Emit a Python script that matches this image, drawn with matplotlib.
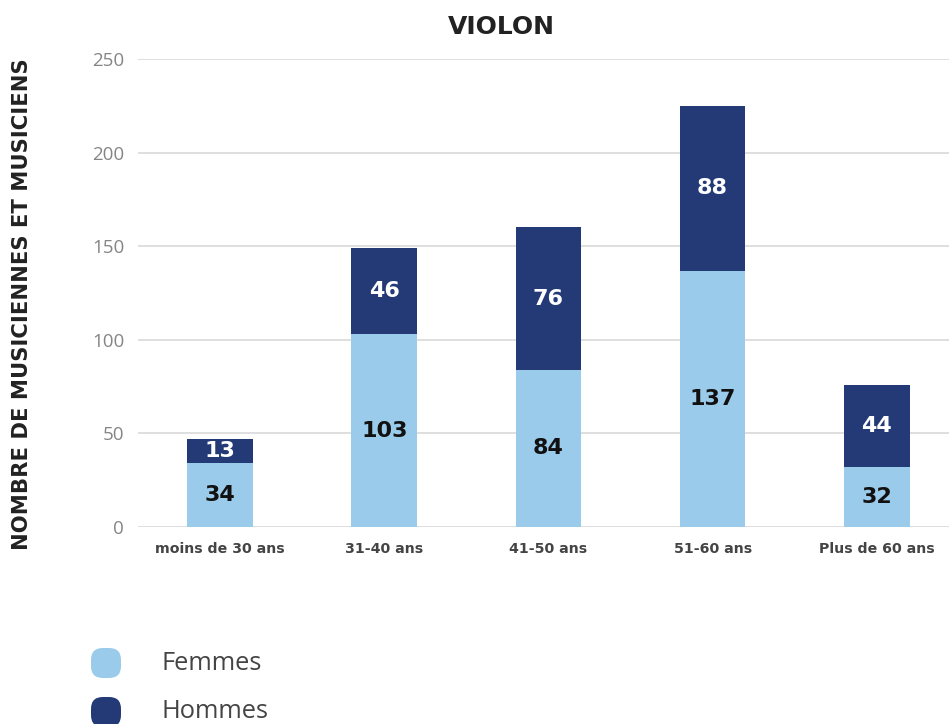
import matplotlib
matplotlib.use("Agg")
import matplotlib.pyplot as plt
from matplotlib.patches import FancyBboxPatch

categories = ["moins de 30 ans", "31-40 ans", "41-50 ans", "51-60 ans", "Plus de 60 ans"]
femmes = [34, 103, 84, 137, 32]
hommes = [13, 46, 76, 88, 44]
series_names = ["Femmes", "Hommes"]
yticks = [0, 50, 100, 150, 200, 250]

c_f = "#9BCBEB"
c_h = "#233A77"
bold_font = ["DejaVu Sans"]
thin_font = ["Open Sans", "DejaVu Sans"]

fig = plt.figure(figsize=(9.49, 7.24), dpi=100)
ax = fig.add_axes([138/949, 1-527/724, 1-138/949, (527-59)/724])

x = list(range(len(categories)))
w = 0.4
ax.bar(x, femmes, width=w, color=c_f, zorder=3)
ax.bar(x, hommes, width=w, bottom=femmes, color=c_h, zorder=3)

for i in x:
    ax.text(i, femmes[i]/2, str(femmes[i]), ha="center", va="center",
            fontsize=16, fontweight="bold", color="#111111", family=bold_font, zorder=4)
    ax.text(i, femmes[i] + hommes[i]/2, str(hommes[i]), ha="center", va="center",
            fontsize=16, fontweight="bold", color="white", family=bold_font, zorder=4)

ax.set_xlim(-0.5, 4.44)
ax.set_ylim(0, 250)
ax.set_yticks(yticks)
ax.set_yticklabels([str(t) for t in yticks], fontsize=13.5, color="#858585", family=thin_font)
ax.set_xticks(x)
ax.set_xticklabels(categories, fontsize=10.2, fontweight="bold", color="#444444", family=bold_font)
ax.tick_params(axis="both", length=0)
ax.tick_params(axis="y", pad=10)
ax.tick_params(axis="x", pad=11)
ax.grid(axis="y", color="#d9d9d9", linewidth=1.2, zorder=0)
for s in ax.spines.values():
    s.set_visible(False)

fig.text(501/949, 1-27/724, "VIOLON", ha="center", va="center",
         fontsize=18, fontweight="bold", color="#222222", family=bold_font)
fig.text(22/949, 1-304/724, "NOMBRE DE MUSICIENNES ET MUSICIENS", rotation=90,
         ha="center", va="center", fontsize=15.2, fontweight="bold", color="#222222", family=bold_font)

# legend
for cy, col, name in [(663, c_f, series_names[0]), (712, c_h, series_names[1])]:
    size = 30
    p = FancyBboxPatch(((106 - size/2)/949, 1 - (cy + size/2)/724), size/949, size/724,
                       boxstyle="round,pad=0,rounding_size=0.0125",
                       transform=fig.transFigure, facecolor=col, edgecolor="none",
                       mutation_aspect=949/724)
    fig.patches.append(p)
    fig.text(162/949, 1 - cy/724, name, ha="left", va="center",
             fontsize=18.3, color="#444444", family=thin_font)

fig.savefig("out.png", dpi=100)
